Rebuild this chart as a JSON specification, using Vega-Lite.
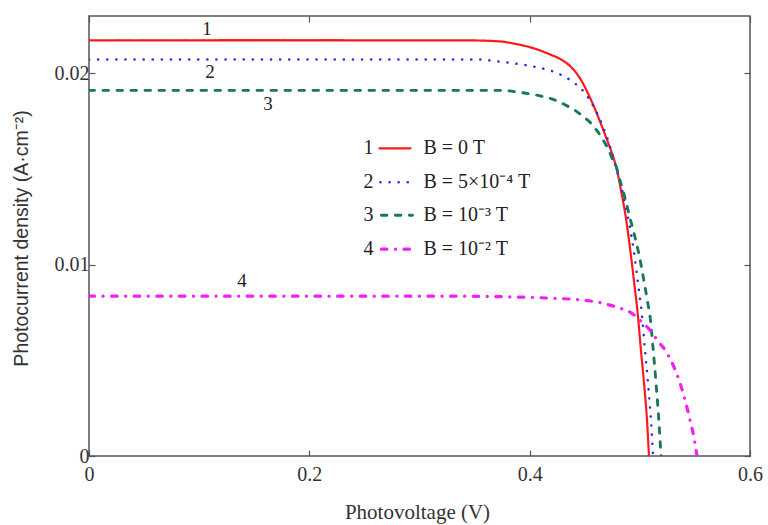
{
  "$schema": "https://vega.github.io/schema/vega-lite/v6.json",
  "width": 661,
  "height": 440,
  "autosize": {"type": "none"},
  "padding": {"left": 89, "top": 16, "right": 18, "bottom": 69},
  "background": "white",
  "config": {
    "view": {"stroke": "#555", "strokeWidth": 1.5},
    "axis": {
      "domain": false, "grid": false, "tickColor": "#555", "tickWidth": 1.2, "tickSize": -6, "labelFlush": false,
      "labelFont": "Liberation Serif", "labelFontSize": 20, "labelColor": "#333",
      "titleFont": "Liberation Serif", "titleFontWeight": "normal", "titleColor": "#333"
    }
  },
  "datasets": {
    "curves": [
      {"s":"1","v":0,"j":0.021723},{"s":"1","v":0.1008,"j":0.021723},{"s":"1","v":0.1915,"j":0.021723},{"s":"1","v":0.2823,"j":0.021723},{"s":"1","v":0.3458,"j":0.021723},{"s":"1","v":0.3731,"j":0.021671},{"s":"1","v":0.3849,"j":0.021567},{"s":"1","v":0.3976,"j":0.02141},{"s":"1","v":0.4094,"j":0.021201},{"s":"1","v":0.4184,"j":0.020992},{"s":"1","v":0.4275,"j":0.02076},{"s":"1","v":0.4339,"j":0.02052},{"s":"1","v":0.4393,"j":0.02023},{"s":"1","v":0.4439,"j":0.0199},{"s":"1","v":0.4484,"j":0.019478},{"s":"1","v":0.4529,"j":0.018956},{"s":"1","v":0.4575,"j":0.018381},{"s":"1","v":0.462,"j":0.017755},{"s":"1","v":0.4666,"j":0.017076},{"s":"1","v":0.4711,"j":0.016397},{"s":"1","v":0.4757,"j":0.015666},{"s":"1","v":0.4793,"j":0.014935},{"s":"1","v":0.4829,"j":0.01389},{"s":"1","v":0.4874,"j":0.012428},{"s":"1","v":0.4911,"j":0.010862},{"s":"1","v":0.4947,"j":0.009138},{"s":"1","v":0.4983,"j":0.007311},{"s":"1","v":0.501,"j":0.005535},{"s":"1","v":0.5038,"j":0.003812},{"s":"1","v":0.5065,"j":0.00188},{"s":"1","v":0.5083,"j":0},
      {"s":"2","v":0,"j":0.020731},{"s":"2","v":0.1008,"j":0.020731},{"s":"2","v":0.1915,"j":0.020731},{"s":"2","v":0.2823,"j":0.020731},{"s":"2","v":0.3549,"j":0.020731},{"s":"2","v":0.3667,"j":0.020653},{"s":"2","v":0.3821,"j":0.020548},{"s":"2","v":0.3976,"j":0.020418},{"s":"2","v":0.4094,"j":0.020287},{"s":"2","v":0.4184,"j":0.020157},{"s":"2","v":0.4275,"j":0.019948},{"s":"2","v":0.4339,"j":0.019765},{"s":"2","v":0.4393,"j":0.01953},{"s":"2","v":0.4457,"j":0.019269},{"s":"2","v":0.4502,"j":0.018956},{"s":"2","v":0.4548,"j":0.01859},{"s":"2","v":0.4593,"j":0.01812},{"s":"2","v":0.4638,"j":0.017598},{"s":"2","v":0.4675,"j":0.017076},{"s":"2","v":0.4711,"j":0.016501},{"s":"2","v":0.4747,"j":0.015822},{"s":"2","v":0.4784,"j":0.015091},{"s":"2","v":0.482,"j":0.014308},{"s":"2","v":0.4866,"j":0.013211},{"s":"2","v":0.4911,"j":0.011906},{"s":"2","v":0.4947,"j":0.010653},{"s":"2","v":0.4983,"j":0.009034},{"s":"2","v":0.502,"j":0.007311},{"s":"2","v":0.5047,"j":0.005535},{"s":"2","v":0.5074,"j":0.003812},{"s":"2","v":0.5101,"j":0.00188},{"s":"2","v":0.512,"j":0},
      {"s":"3","v":0,"j":0.019112},{"s":"3","v":0.1008,"j":0.019112},{"s":"3","v":0.1915,"j":0.019112},{"s":"3","v":0.2823,"j":0.019112},{"s":"3","v":0.3731,"j":0.019112},{"s":"3","v":0.3912,"j":0.019008},{"s":"3","v":0.4094,"j":0.018825},{"s":"3","v":0.4212,"j":0.018642},{"s":"3","v":0.4339,"j":0.018303},{"s":"3","v":0.4412,"j":0.018068},{"s":"3","v":0.4484,"j":0.017755},{"s":"3","v":0.4548,"j":0.017441},{"s":"3","v":0.4602,"j":0.017076},{"s":"3","v":0.4647,"j":0.01671},{"s":"3","v":0.4684,"j":0.016345},{"s":"3","v":0.472,"j":0.015979},{"s":"3","v":0.4747,"j":0.015561},{"s":"3","v":0.4775,"j":0.0153},{"s":"3","v":0.482,"j":0.014413},{"s":"3","v":0.4866,"j":0.013473},{"s":"3","v":0.4911,"j":0.012428},{"s":"3","v":0.4956,"j":0.011436},{"s":"3","v":0.4992,"j":0.010548},{"s":"3","v":0.5038,"j":0.009138},{"s":"3","v":0.5074,"j":0.007937},{"s":"3","v":0.5092,"j":0.007311},{"s":"3","v":0.512,"j":0.00564},{"s":"3","v":0.5147,"j":0.003812},{"s":"3","v":0.5174,"j":0.001723},{"s":"3","v":0.5192,"j":0},
      {"s":"4","v":0,"j":0.008355},{"s":"4","v":0.1008,"j":0.008355},{"s":"4","v":0.1915,"j":0.008355},{"s":"4","v":0.2823,"j":0.008355},{"s":"4","v":0.3277,"j":0.008355},{"s":"4","v":0.3731,"j":0.008329},{"s":"4","v":0.4184,"j":0.008251},{"s":"4","v":0.4484,"j":0.008146},{"s":"4","v":0.4638,"j":0.008016},{"s":"4","v":0.4729,"j":0.007885},{"s":"4","v":0.482,"j":0.007728},{"s":"4","v":0.4911,"j":0.00752},{"s":"4","v":0.5002,"j":0.007102},{"s":"4","v":0.5092,"j":0.00658},{"s":"4","v":0.5165,"j":0.006005},{"s":"4","v":0.5247,"j":0.005379},{"s":"4","v":0.531,"j":0.004648},{"s":"4","v":0.5365,"j":0.003812},{"s":"4","v":0.541,"j":0.002924},{"s":"4","v":0.5456,"j":0.00188},{"s":"4","v":0.5492,"j":0.00094},{"s":"4","v":0.5519,"j":0}
    ],
    "legendLines": [
      {"s":"1","v1":0.2636,"v2":0.2918,"j":0.016084},
      {"s":"2","v1":0.2645,"v2":0.2918,"j":0.014308},
      {"s":"3","v1":0.2654,"v2":0.2936,"j":0.012585},
      {"s":"4","v1":0.2654,"v2":0.2927,"j":0.010809}
    ],
    "legendNums": [
      {"t":"1","v":0.2536,"j":0.016084},
      {"t":"2","v":0.2536,"j":0.014308},
      {"t":"3","v":0.2536,"j":0.012585},
      {"t":"4","v":0.2536,"j":0.010809}
    ],
    "legendLabels": [
      {"t":"B = 0 T","v":0.3036,"j":0.016084},
      {"t":"B = 5×10⁻⁴ T","v":0.3036,"j":0.014308},
      {"t":"B = 10⁻³ T","v":0.3036,"j":0.012585},
      {"t":"B = 10⁻² T","v":0.3036,"j":0.010809}
    ],
    "curveLabels": [
      {"t":"1","v":0.1071,"j":0.022298},
      {"t":"2","v":0.1098,"j":0.020052},
      {"t":"3","v":0.1624,"j":0.018381},
      {"t":"4","v":0.1389,"j":0.009138}
    ]
  },
  "layer": [
    {
      "data": {"name": "curves"},
      "mark": {"type": "line", "interpolate": "monotone", "strokeCap": "round", "strokeJoin": "round", "clip": true},
      "encoding": {
        "x": {"field": "v", "type": "quantitative",
          "scale": {"domain": [0, 0.6], "nice": false, "zero": false},
          "axis": {"orient": "bottom", "values": [0, 0.2, 0.4, 0.6], "format": "~g", "labelPadding": 14,
            "title": "Photovoltage (V)", "titleFontSize": 21, "titleX": 328, "titleY": 62, "titleBaseline": "alphabetic", "titleAlign": "center", "titleAnchor": null}},
        "y": {"field": "j", "type": "quantitative",
          "scale": {"domain": [0, 0.023], "nice": false, "zero": false},
          "axis": {"orient": "left", "values": [0, 0.01, 0.02], "format": "~g", "labelPadding": 6,
            "title": "Photocurrent density (A·cm⁻²)", "titleFont": "Liberation Sans", "titleFontSize": 19.5,
            "titleX": -62, "titleY": 222, "titleAngle": -90, "titleBaseline": "alphabetic", "titleAlign": "center", "titleAnchor": null}},
        "color": {"field": "s", "type": "nominal", "scale": {"domain": ["1","2","3","4"], "range": ["#ff1a1a", "#2b2bf0", "#17775f", "#f51ef5"]}, "legend": null},
        "strokeDash": {"field": "s", "type": "nominal", "scale": {"domain": ["1","2","3","4"], "range": [[1,0],[0.1,9],[5.5,8.5],[5.5,8.5,0.1,8.5]]}, "legend": null},
        "strokeWidth": {"field": "s", "type": "nominal", "scale": {"domain": ["1","2","3","4"], "range": [2.2, 3.2, 3.5, 3]}, "legend": null}
      }
    },
    {
      "data": {"name": "legendLines"},
      "mark": {"type": "rule", "strokeCap": "round"},
      "encoding": {
        "x": {"field": "v1", "type": "quantitative", "axis": null},
        "x2": {"field": "v2"},
        "y": {"field": "j", "type": "quantitative", "axis": null},
        "color": {"field": "s", "type": "nominal", "legend": null},
        "strokeDash": {"field": "s", "type": "nominal", "legend": null},
        "strokeWidth": {"field": "s", "type": "nominal", "legend": null}
      }
    },
    {
      "data": {"name": "legendNums"},
      "mark": {"type": "text", "font": "Liberation Serif", "fontSize": 20, "color": "#222", "align": "center", "baseline": "middle"},
      "encoding": {
        "x": {"field": "v", "type": "quantitative", "axis": null},
        "y": {"field": "j", "type": "quantitative", "axis": null},
        "text": {"field": "t"}
      }
    },
    {
      "data": {"name": "legendLabels"},
      "mark": {"type": "text", "font": "Liberation Serif", "fontSize": 20, "color": "#222", "align": "left", "baseline": "middle"},
      "encoding": {
        "x": {"field": "v", "type": "quantitative", "axis": null},
        "y": {"field": "j", "type": "quantitative", "axis": null},
        "text": {"field": "t"}
      }
    },
    {
      "data": {"name": "curveLabels"},
      "mark": {"type": "text", "font": "Liberation Serif", "fontSize": 19, "color": "#222", "align": "center", "baseline": "middle"},
      "encoding": {
        "x": {"field": "v", "type": "quantitative",
          "axis": {"orient": "top", "values": [0, 0.2, 0.4, 0.6], "labels": false, "title": null}},
        "y": {"field": "j", "type": "quantitative",
          "axis": {"orient": "right", "values": [0, 0.01, 0.02], "labels": false, "title": null}},
        "text": {"field": "t"}
      }
    }
  ],
  "resolve": {"axis": {"x": "independent", "y": "independent"}}
}
